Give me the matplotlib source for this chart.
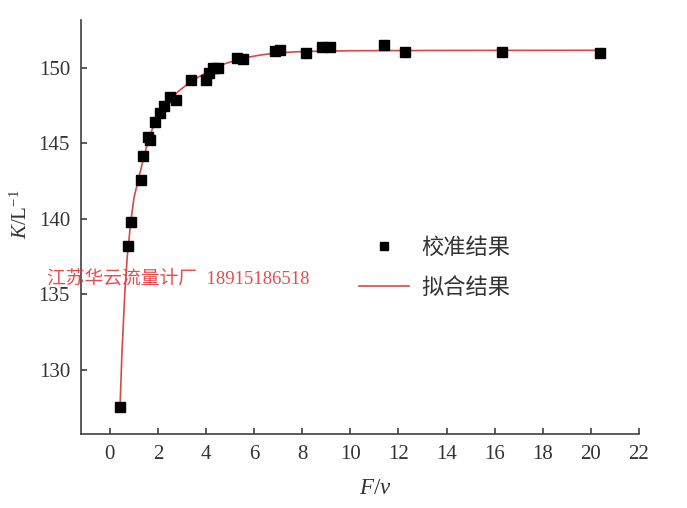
import matplotlib
matplotlib.use('Agg')
import matplotlib.pyplot as plt

plt.rcParams['font.family'] = ['Liberation Serif', 'Noto Sans CJK SC']
plt.rcParams['mathtext.fontset'] = 'custom'
plt.rcParams['mathtext.rm'] = 'Liberation Serif'
plt.rcParams['mathtext.it'] = 'Liberation Serif:italic'

# 校准结果 (calibration points)
f_v = [0.42, 0.75, 0.87, 1.29, 1.37, 1.58, 1.66, 1.87, 2.08, 2.25, 2.49, 2.74,
       3.37, 3.99, 4.12, 4.28, 4.5, 5.28, 5.53, 6.86, 7.07, 8.15, 8.81, 9.15,
       11.39, 12.27, 16.3, 20.37]
k_cal = [127.55, 138.2, 139.8, 142.6, 144.2, 145.4, 145.2, 146.4, 147.0, 147.5,
         148.1, 147.9, 149.2, 149.2, 149.7, 150.0, 150.0, 150.7, 150.6, 151.1,
         151.2, 151.0, 151.4, 151.4, 151.5, 151.06, 151.06, 150.99]

# 拟合结果 (fitted curve)
fit_x = [0.42, 0.5, 0.62, 0.72, 0.86, 1.0, 1.18, 1.35, 1.59, 1.75, 1.94, 2.15,
         2.36, 2.6, 2.91, 3.2, 3.46, 3.9, 4.3, 4.8, 5.27, 5.75, 6.24, 6.93,
         8.0, 10.0, 14.0, 20.4]
fit_k = [127.5, 131.1, 135.1, 137.5, 139.7, 141.4, 142.6, 143.7, 145.2, 145.9,
         146.6, 147.15, 147.66, 148.1, 148.54, 148.9, 149.2, 149.6, 149.98,
         150.3, 150.53, 150.72, 150.86, 151.0, 151.1, 151.15, 151.17, 151.18]

fig = plt.figure(figsize=(6.87, 5.08), dpi=100)
ax = fig.add_axes([0.118, 0.146, 0.812, 0.815])

ax.plot(fit_x, fit_k, color='#d94848', lw=1.2, label='拟合结果', zorder=2)
ax.plot(f_v, k_cal, linestyle='none', marker='s', ms=6.5, color='black',
        label='校准结果', zorder=3)

ax.set_xlim(-1.2, 22)
ax.set_ylim(125.75, 153.2)
ax.set_xticks(range(0, 23, 2))
ax.set_yticks([130, 135, 140, 145, 150])

for s in ['top', 'right']:
    ax.spines[s].set_visible(False)
for s in ['left', 'bottom']:
    ax.spines[s].set_color('#404040')
    ax.spines[s].set_linewidth(1.2)
ax.tick_params(direction='in', length=4.5, width=1.2, color='#404040',
               labelsize=15, labelcolor='#333333', pad=8)

ax.set_xlabel('$F$/$v$', fontsize=16.5, color='#333333', va='center')
ax.xaxis.set_label_coords(0.527, -0.133)
ax.set_ylabel('$K$/L$^{-1}$', fontsize=15, color='#333333', va='center')
ax.yaxis.set_label_coords(-0.108, 0.531)

handles, labels = ax.get_legend_handles_labels()
ax.legend(handles[::-1], labels[::-1], loc='center left',
          bbox_to_anchor=(0.498, 0.40), frameon=False, borderpad=0,
          borderaxespad=0, fontsize=16, labelspacing=0.85, handlelength=2.25,
          handletextpad=0.55, markerscale=0.8, labelcolor='#333333')

fig.text(0.068, 0.451, '江苏华云流量计厂  18915186518', color='#e33b3b',
         fontsize=13.5, va='center', ha='left', alpha=0.9)

fig.savefig('out.png', dpi=100)
